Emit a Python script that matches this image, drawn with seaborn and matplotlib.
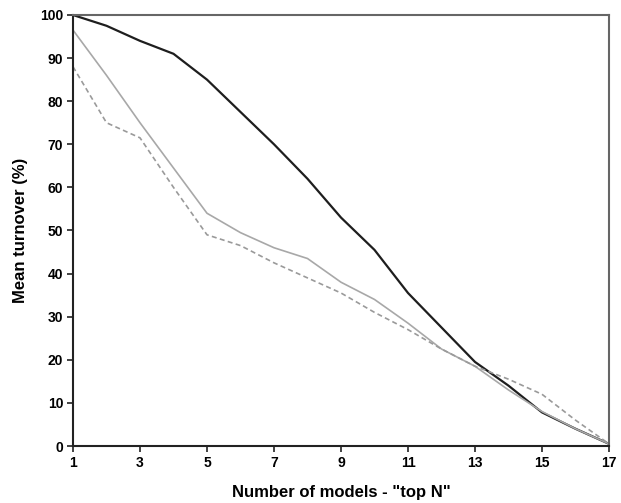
import numpy as np
import pandas as pd
import matplotlib
matplotlib.use("Agg")
import matplotlib.pyplot as plt
import seaborn as sns

top_n = list(range(1, 18))
series_black = [100, 97.5, 94, 91, 85, 77.5, 70, 62, 53, 45.5, 35.5, 27.5, 19.5, 14, 7.8, 4, 0.5]
series_gray = [96.5, 86, 75, 64.5, 54, 49.5, 46, 43.5, 38, 34, 28.5, 22.5, 18.5, 13, 8, 4, 0.5]
series_dashed = [88, 75, 71.5, 60, 49, 46.5, 42.5, 39, 35.5, 31, 27, 22.5, 18.5, 15.5, 12, 6, 0.5]
x_ticks = [1, 3, 5, 7, 9, 11, 13, 15, 17]
y_ticks = list(range(0, 101, 10))

sns.set_style("white")
plt.rcParams['font.family'] = ['Liberation Sans', 'DejaVu Sans']
plt.rcParams['text.color'] = 'black'
plt.rcParams['axes.labelcolor'] = 'black'
plt.rcParams['xtick.color'] = 'black'
plt.rcParams['ytick.color'] = 'black'

df = pd.DataFrame({
    "x": top_n * 3,
    "y": series_black + series_gray + series_dashed,
    "s": ["black"] * 17 + ["gray"] * 17 + ["dashed"] * 17,
})

fig = plt.figure(figsize=(6.21, 5.03), dpi=100)
ax = fig.add_axes([73/621, 1-446/503, (609-73)/621, (446-15)/503])

sns.lineplot(data=df, x="x", y="y", hue="s", style="s",
             palette={"black": "#1e1e1e", "gray": "#a8a8a8", "dashed": "#9a9a9a"},
             dashes={"black": "", "gray": "", "dashed": (3, 2)},
             size="s", sizes={"black": 1.6, "gray": 1.2, "dashed": 1.2},
             legend=False, ax=ax)

ax.set_xlim(1, 17)
ax.set_ylim(0, 100)
ax.set_xticks(x_ticks)
ax.set_yticks(y_ticks)
ax.tick_params(axis='both', direction='out', length=4, width=1.2, labelsize=10, pad=3,
               left=True, bottom=True, color='#222222', labelcolor='black')
for lab in ax.get_xticklabels() + ax.get_yticklabels():
    lab.set_fontweight('bold')
ax.set_xlabel('Number of models - "top N"', fontsize=12, fontweight='bold', labelpad=11, color='black')
ax.set_ylabel('Mean turnover (%)', fontsize=12, fontweight='bold', labelpad=9, color='black')

for side in ['left', 'bottom']:
    ax.spines[side].set_color('#222222')
    ax.spines[side].set_linewidth(1.5)
for side in ['top', 'right']:
    ax.spines[side].set_color('#666666')
    ax.spines[side].set_linewidth(1.5)
    ax.spines[side].set_visible(True)

fig.savefig("out.png", dpi=100)
